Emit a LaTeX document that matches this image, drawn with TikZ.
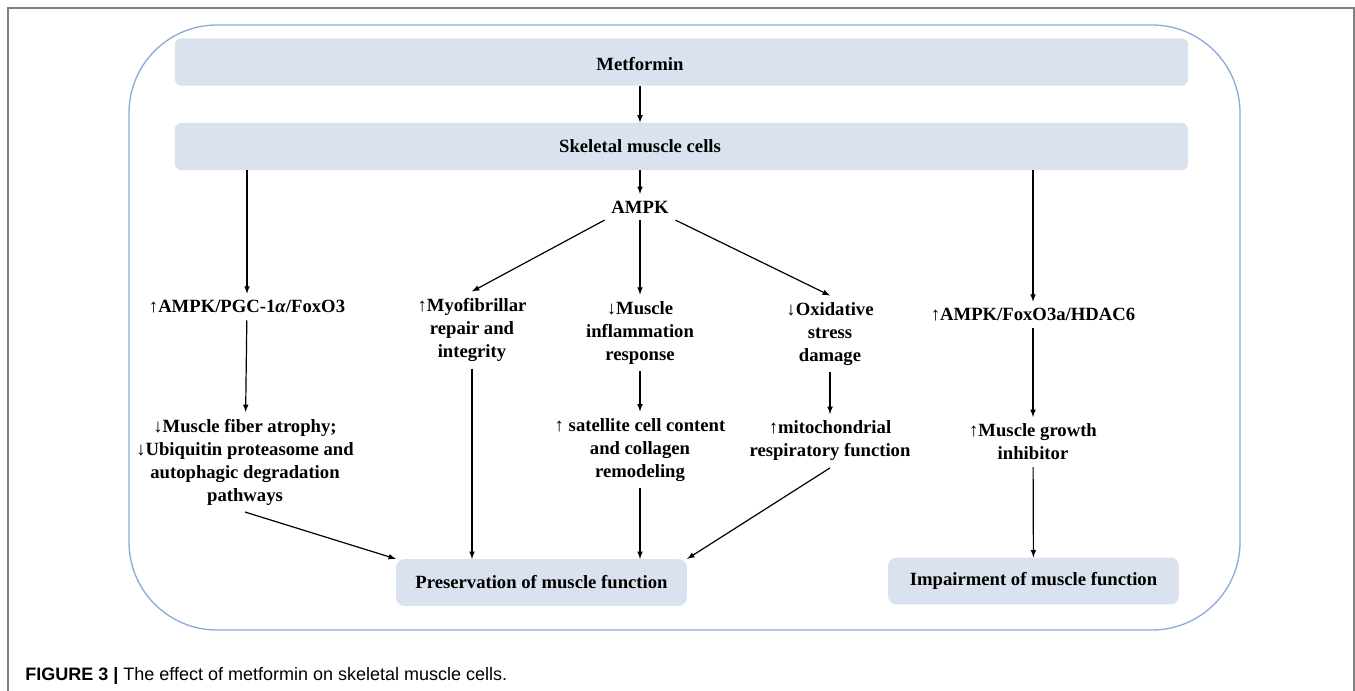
\documentclass[tikz,border=0pt]{standalone}
\usepackage{fontspec}
\setmainfont{Liberation Serif}
\setsansfont{Liberation Sans}
\definecolor{barfill}{RGB}{218,226,240}
\definecolor{frameblue}{RGB}{142,170,219}
\definecolor{pagegray}{RGB}{128,128,128}
\begin{document}
\begin{tikzpicture}[x=0.75pt,y=-0.75pt,>=latex,
	bar/.style={rectangle,rounded corners=5pt,fill=barfill,minimum width=760pt,minimum height=35.5pt,inner sep=0pt},
	box/.style={rectangle,rounded corners=6pt,fill=barfill,minimum width=218pt,minimum height=35pt,font=\bfseries\fontsize{14}{17}\selectfont},
	txt/.style={align=center,inner sep=5pt,font=\bfseries\fontsize{14}{17.25}\selectfont},
	arr/.style={->,line width=0.9pt}]
	\useasboundingbox (0,0) rectangle (1355,691);
	\draw[pagegray,line width=1.2pt] (1354,691) -- (1354,8) -- (8,8) -- (8,691);
	\draw[frameblue,line width=1pt,rounded corners=66pt] (129,25) rectangle (1240,630);
	\node[bar] at (681.5,62) (metbar) {};
	\node[bar] at (681.5,146.5) (skelbar) {};
	\node[txt] at (640,64) (met) {Metformin};
	\node[txt] at (640,146) (skel) {Skeletal muscle cells};
	\node[txt] at (640,207) (ampk) {AMPK};
	\node[txt] at (247,307) (pgc) {↑AMPK/PGC-1\textit{α}/FoxO3};
	\node[txt] at (245,462) (atro) {↓Muscle fiber atrophy;\\↓Ubiquitin proteasome and\\autophagic degradation\\pathways};
	\node[txt] at (472,330) (myo) {↑Myofibrillar\\repair and\\integrity};
	\node[txt] at (640,333) (infl) {↓Muscle\\inflammation\\response};
	\node[txt] at (830,334) (oxi) {↓Oxidative\\stress\\damage};
	\node[txt] at (640,450) (sat) {↑ satellite cell content\\and collagen\\remodeling};
	\node[txt] at (830,441) (mito) {↑mitochondrial\\respiratory function};
	\node[txt] at (1033,315) (hdac) {↑AMPK/FoxO3a/HDAC6};
	\node[txt] at (1033,442) (grow) {↑Muscle growth\\inhibitor};
	\node[box] at (541.5,582.5) (pres) {Preservation of muscle function};
	\node[box] at (1033.5,581) (imp) {Impairment of muscle function};
	\draw[arr] (metbar.south -| met) -- (skelbar.north -| met);
	\draw[arr] (skelbar.south -| ampk) -- (ampk);
	\draw[arr] (skelbar.south -| pgc) -- (pgc);
	\draw[arr] (pgc) -- (atro);
	\draw[arr] (atro.south) -- (pres.north west);
	\draw[arr] (ampk.south west) -- (myo.north);
	\draw[arr] (ampk) -- (infl);
	\draw[arr] (ampk.south east) -- (oxi.north);
	\draw[arr] (myo.south) -- (myo.south |- pres.north);
	\draw[arr] (infl) -- (sat);
	\draw[arr] (sat.south) -- (sat.south |- pres.north);
	\draw[arr] (oxi) -- (mito);
	\draw[arr] (mito.south) -- (pres.north east);
	\draw[arr] (skelbar.south -| hdac) -- (hdac);
	\draw[arr] (hdac) -- (grow);
	\draw[arr] (grow) -- (imp);
	\node[anchor=west,inner sep=0pt,font=\sffamily\fontsize{13.5}{16}\selectfont] at (25,676) (cap) {\textbf{FIGURE 3 |} The effect of metformin on skeletal muscle cells.};
\end{tikzpicture}
\end{document}
